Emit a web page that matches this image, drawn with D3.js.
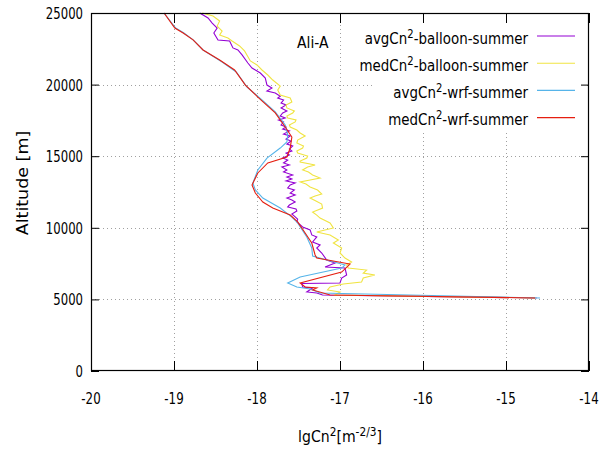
<!DOCTYPE html>
<html>
<head>
<meta charset="utf-8">
<script src="https://cdn.jsdelivr.net/npm/d3@7"></script>
<style>
  html, body { margin: 0; padding: 0; background: #fff; }
  svg { display: block; }
  text { font-family: "DejaVu Sans", sans-serif; fill: #000; }
</style>
</head>
<body>
<svg id="chart" width="616" height="454"></svg>
<script>
// Cn2 vertical profiles at Ali-A, summer: [lgCn2, altitude in m]
const avgBalloon = [
  [-18.69,25000],[-18.59,24650],[-18.54,24300],[-18.48,23950],[-18.52,23600],[-18.47,23110],
  [-18.33,23040],[-18.29,22560],[-18.23,22420],[-18.18,22070],[-18.11,21510],[-18.06,21160],
  [-18.02,21020],[-17.96,20810],[-17.90,20460],[-17.88,19970],[-17.82,19760],[-17.88,19550],
  [-17.78,19410],[-17.72,19190],[-17.75,19060],[-17.68,18920],[-17.71,18710],[-17.65,18580],
  [-17.71,18370],[-17.64,18160],[-17.69,18020],[-17.72,17810],[-17.66,17670],[-17.74,17530],
  [-17.68,17390],[-17.71,17180],[-17.65,17040],[-17.69,16900],[-17.61,16760],[-17.68,16550],
  [-17.60,16410],[-17.65,16200],[-17.59,16060],[-17.64,15850],[-17.57,15710],[-17.61,15500],
  [-17.58,15360],[-17.65,15220],[-17.61,15080],[-17.69,14870],[-17.63,14730],[-17.68,14530],
  [-17.61,14390],[-17.70,14250],[-17.64,14040],[-17.68,13900],[-17.57,13690],[-17.64,13550],
  [-17.58,13410],[-17.65,13270],[-17.54,13130],[-17.60,12990],[-17.63,12780],[-17.55,12640],
  [-17.60,12430],[-17.54,12290],[-17.64,12080],[-17.58,11940],[-17.54,11800],[-17.61,11590],
  [-17.63,11450],[-17.53,11310],[-17.52,11170],[-17.58,10960],[-17.55,10820],[-17.51,10610],
  [-17.52,10410],[-17.45,10060],[-17.36,9850],[-17.34,9500],[-17.28,9360],[-17.33,9010],
  [-17.24,8800],[-17.28,8590],[-17.22,8240],[-17.16,7750],[-17.06,7540],[-17.18,7260],
  [-16.94,7190],[-16.92,6700],[-16.98,6490],[-17.00,6150],[-17.46,6110],[-17.45,5870],
  [-17.33,5800],[-17.40,5520],[-17.28,5450],[-17.21,5310],[-14.63,5100]
];
const medBalloon = [
  [-18.66,25000],[-18.53,24790],[-18.45,24440],[-18.48,24090],[-18.42,23740],[-18.45,23460],
  [-18.35,23250],[-18.30,23040],[-18.21,22700],[-18.15,22350],[-18.08,21650],[-18.00,21370],
  [-17.94,21020],[-17.87,20670],[-17.81,20320],[-17.72,19900],[-17.75,19620],[-17.72,19270],
  [-17.60,19060],[-17.58,18780],[-17.65,18580],[-17.64,18370],[-17.55,18160],[-17.57,18020],
  [-17.64,17810],[-17.63,17670],[-17.53,17530],[-17.54,17390],[-17.61,17180],[-17.60,17040],
  [-17.52,16830],[-17.48,16620],[-17.42,16410],[-17.51,16130],[-17.52,15920],[-17.44,15710],
  [-17.45,15570],[-17.52,15360],[-17.51,15220],[-17.39,15010],[-17.40,14870],[-17.48,14660],
  [-17.48,14590],[-17.30,14390],[-17.39,14250],[-17.45,14040],[-17.38,13900],[-17.33,13690],
  [-17.24,13480],[-17.36,13340],[-17.48,13200],[-17.41,13060],[-17.36,12850],[-17.27,12640],
  [-17.22,12360],[-17.30,12220],[-17.36,12080],[-17.29,11870],[-17.22,11660],[-17.21,11380],
  [-17.33,11100],[-17.28,10890],[-17.24,10680],[-17.12,10340],[-17.08,9990],[-17.28,9710],
  [-17.12,9500],[-17.02,9150],[-17.08,8940],[-16.98,8590],[-17.00,8240],[-16.94,7890],
  [-16.86,7610],[-16.92,7400],[-16.90,7190],[-16.68,7050],[-16.72,6840],[-16.58,6700],
  [-16.72,6490],[-16.74,6220],[-16.96,6080],[-17.12,5870],[-17.15,5660],[-17.00,5520],
  [-17.06,5310],[-14.64,5100]
];
const avgWrf = [
  [-19.12,25000],[-18.98,23950],[-18.88,23600],[-18.77,23120],[-18.65,22420],[-18.42,21580],
  [-18.25,20880],[-18.12,19830],[-17.94,18930],[-17.78,18090],[-17.66,17180],[-17.63,16480],
  [-17.64,15990],[-17.72,15570],[-17.88,14870],[-17.99,14040],[-18.05,13130],[-18.02,12640],
  [-17.93,12080],[-17.72,11380],[-17.58,10750],[-17.51,10340],[-17.40,9360],[-17.34,8590],
  [-17.33,8030],[-16.94,7400],[-16.98,7190],[-17.48,6560],[-17.63,6150],[-17.52,5870],
  [-17.36,5730],[-17.24,5450],[-14.59,5100]
];
const medWrf = [
  [-19.12,25000],[-18.99,23950],[-18.89,23600],[-18.77,23120],[-18.65,22420],[-18.45,21720],
  [-18.27,21020],[-18.14,19970],[-17.99,19130],[-17.78,18020],[-17.66,17040],[-17.58,16340],
  [-17.60,15570],[-17.64,14940],[-17.87,14530],[-17.99,13830],[-18.06,12990],[-18.02,12430],
  [-17.93,11800],[-17.81,11380],[-17.60,10890],[-17.51,10410],[-17.42,9640],[-17.34,8940],
  [-17.30,8100],[-17.28,7890],[-16.88,7470],[-16.98,6910],[-17.48,6150],[-17.42,5870],
  [-17.28,5800],[-17.33,5660],[-17.12,5310],[-14.65,5100]
];

const seriesNames = ["avgCn2-balloon-summer", "medCn2-balloon-summer", "avgCn2-wrf-summer", "medCn2-wrf-summer"];
const seriesColors = ["#9400d3", "#f0e442", "#56b4e9", "#e51e10"];
const seriesData = [avgBalloon, medBalloon, avgWrf, medWrf];

const xTicks = [-20, -19, -18, -17, -16, -15, -14];
const yTicks = [0, 5000, 10000, 15000, 20000, 25000];
const siteLabel = "Ali-A";

const svg = d3.select("#chart");
const plot = { left: 91, right: 589, top: 13, bottom: 371 };

const x = d3.scaleLinear().domain([-20, -14]).range([plot.left, plot.right]);
const y = d3.scaleLinear().domain([0, 25000]).range([plot.bottom, plot.top]);

// horizontally condensed text placed at (px, py)
function squeezed(g, px, py, k, extra) {
  return g.append("text")
    .attr("transform", `translate(${px},${py}) scale(${k},1)` + (extra || ""));
}

// grid
const grid = svg.append("g").attr("stroke", "#a0a0a0").attr("stroke-width", 1)
  .attr("stroke-dasharray", "1,3");
xTicks.slice(1, -1).forEach(t => {
  grid.append("line").attr("x1", Math.round(x(t)) + 0.5).attr("x2", Math.round(x(t)) + 0.5)
    .attr("y1", plot.top).attr("y2", plot.bottom);
});
yTicks.slice(1, -1).forEach(t => {
  grid.append("line").attr("y1", Math.round(y(t)) + 0.5).attr("y2", Math.round(y(t)) + 0.5)
    .attr("x1", plot.left).attr("x2", plot.right);
});

// legend box (opaque, covers grid)
svg.append("rect").attr("x", 372).attr("y", 24).attr("width", 214).attr("height", 107)
  .attr("fill", "#fff");

// curves
const line = d3.line().x(d => x(d[0])).y(d => y(d[1]));
seriesData.forEach((data, i) => {
  svg.append("path").datum(data).attr("d", line)
    .attr("fill", "none").attr("stroke", seriesColors[i]).attr("stroke-width", 1.1)
    .attr("stroke-linejoin", "miter");
});

// axes: bottom/left with inward ticks, mirrored on top/right
const xAxisB = d3.axisBottom(x).tickValues(xTicks).tickSizeInner(-10).tickSizeOuter(0).tickFormat("");
const xAxisT = d3.axisTop(x).tickValues(xTicks).tickSizeInner(-10).tickSizeOuter(0).tickFormat("");
const yAxisL = d3.axisLeft(y).tickValues(yTicks).tickSizeInner(-8).tickSizeOuter(0).tickFormat("");
const yAxisR = d3.axisRight(y).tickValues(yTicks).tickSizeInner(-8).tickSizeOuter(0).tickFormat("");
[[xAxisB, `translate(0,${plot.bottom})`], [xAxisT, `translate(0,${plot.top})`],
 [yAxisL, `translate(${plot.left},0)`], [yAxisR, `translate(${plot.right},0)`]].forEach(([ax, tr]) => {
  const g = svg.append("g").attr("transform", tr).call(ax);
  g.select(".domain").remove();
  g.selectAll("line").attr("stroke", "#000").attr("stroke-width", 1);
});

// border
svg.append("rect").attr("x", plot.left + 0.5).attr("y", plot.top + 0.5)
  .attr("width", plot.right - plot.left - 1).attr("height", plot.bottom - plot.top - 1)
  .attr("fill", "none").attr("stroke", "#000").attr("stroke-width", 1.2);

// tick labels
const labels = svg.append("g").attr("font-size", 16);
xTicks.forEach(t => {
  squeezed(labels, x(t), 404, 0.74).attr("text-anchor", "middle").text(t);
});
yTicks.forEach(t => {
  squeezed(labels, 83, y(t) + 6, 0.73).attr("text-anchor", "end").text(t);
});

// axis titles
squeezed(svg, 28, 183, 0.86, " rotate(-90)")
  .attr("text-anchor", "middle").attr("font-size", 17.5).text("Altitude [m]");

const xTitle = squeezed(svg, 340, 442, 0.88).attr("text-anchor", "middle").attr("font-size", 16);
xTitle.append("tspan").text("lgCn");
xTitle.append("tspan").attr("dy", -6).attr("font-size", 12).text("2");
xTitle.append("tspan").attr("dy", 6).text("[m");
xTitle.append("tspan").attr("dy", -6).attr("font-size", 12).text("-2/3");
xTitle.append("tspan").attr("dy", 6).text("]");

// site label
squeezed(svg, 297, 48, 0.87).attr("font-size", 16).text(siteLabel);

// legend
const legend = svg.append("g");
seriesNames.forEach((name, i) => {
  const ly = 36 + i * 27.2;
  legend.append("line").attr("x1", 537).attr("x2", 575).attr("y1", ly).attr("y2", ly)
    .attr("stroke", seriesColors[i]).attr("stroke-width", 1.1);
  const t = squeezed(legend, 528, ly + 7.5, 0.84).attr("text-anchor", "end").attr("font-size", 16);
  const parts = name.split("2");
  t.append("tspan").text(parts[0]);
  t.append("tspan").attr("dy", -6).attr("font-size", 12).text("2");
  t.append("tspan").attr("dy", 6).text(parts[1]);
});
</script>
</body>
</html>
